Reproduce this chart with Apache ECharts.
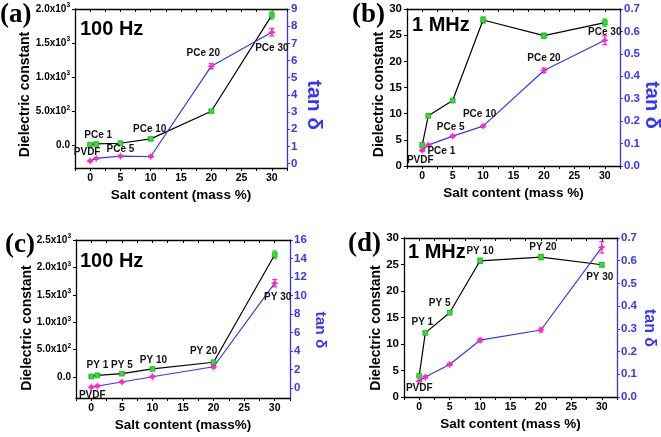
<!DOCTYPE html>
<html><head><meta charset="utf-8">
<script src="https://cdn.jsdelivr.net/npm/echarts@6/dist/echarts.min.js"></script>
<style>html,body{margin:0;padding:0;background:#fff}#c{width:661px;height:437px}</style>
</head><body><div id="c"></div>
<script>
// ---- data ----
const saltContent = [0, 1, 5, 10, 20, 30];

// (a) PCe, 100 Hz
const aDielectric = [10, 20, 30, 95, 500, 1910];
const aDielectricErr = [10, 10, 10, 15, 15, 60];
const aTan = [0.15, 0.3, 0.43, 0.41, 5.67, 7.65];
const aTanErr = [0.05, 0.05, 0.05, 0.05, 0.15, 0.22];
const aNames = ['PVDF', 'PCe 1', 'PCe 5', 'PCe 10', 'PCe 20', 'PCe 30'];

// (b) PCe, 1 MHz
const bDielectric = [4.0, 9.6, 12.5, 27.9, 24.9, 27.4];
const bDielectricErr = [0.2, 0.3, 0.3, 0.6, 0.5, 0.7];
const bTan = [0.07, 0.093, 0.133, 0.178, 0.426, 0.561];
const bTanErr = [0.005, 0.005, 0.005, 0.005, 0.01, 0.02];
const bNames = ['PVDF', 'PCe 1', 'PCe 5', 'PCe 10', 'PCe 20', 'PCe 30'];

// (c) PY, 100 Hz
const cDielectric = [10, 30, 61, 147, 269, 2231];
const cDielectricErr = [10, 10, 10, 15, 20, 70];
const cTan = [0.1, 0.22, 0.65, 1.22, 2.3, 11.33];
const cTanErr = [0.1, 0.1, 0.1, 0.1, 0.15, 0.4];
const cNames = ['PVDF', 'PY 1', 'PY 5', 'PY 10', 'PY 20', 'PY 30'];

// (d) PY, 1 MHz
const dDielectric = [4.0, 12.1, 15.9, 25.7, 26.4, 24.95];
const dDielectricErr = [0.2, 0.2, 0.3, 0.5, 0.5, 0.4];
const dTan = [0.07, 0.088, 0.143, 0.25, 0.295, 0.659];
const dTanErr = [0.003, 0.005, 0.005, 0.008, 0.008, 0.025];
const dNames = ['PVDF', 'PY 1', 'PY 5', 'PY 10', 'PY 20', 'PY 30'];

// tick labels of the axes
const xTickLabels = [0, 5, 10, 15, 20, 25, 30];
const leftTicksA = [0, 500, 1000, 1500, 2000];
const rightTicksA = [0, 1, 2, 3, 4, 5, 6, 7, 8, 9];
const leftTicksB = [0, 5, 10, 15, 20, 25, 30];
const rightTicksB = [0, 0.1, 0.2, 0.3, 0.4, 0.5, 0.6, 0.7];
const leftTicksC = [0, 500, 1000, 1500, 2000, 2500];
const rightTicksC = [0, 2, 4, 6, 8, 10, 12, 14, 16];
const leftTicksD = [0, 5, 10, 15, 20, 25, 30];
const rightTicksD = [0, 0.1, 0.2, 0.3, 0.4, 0.5, 0.6, 0.7];

// ---- styling ----
const FONT = "'Liberation Sans', Arial, sans-serif";
const BLUE = '#3535ff';
const GREEN = '#33dd33';
const MAGENTA = '#ff2bc0';
const STAR = 'path://M0,-1L0.3,-0.3L1,0L0.3,0.3L0,1L-0.3,0.3L-1,0L-0.3,-0.3Z';
const XMIN = -2.5, XMAX = 32.5;

const panels = [
  { letter: '(a)', freq: '100 Hz', grid: {left: 75, top: 9, width: 212, height: 159},
    xName: 'Salt content (mass %)',
    lmin: -333, lmax: 2000, lTicks: leftTicksA, sci: true,
    rmin: -0.26, rmax: 9, rTicks: rightTicksA, rDec: 0,
    lTitle: [25.5, 94.5], rTitle: [313.5, 105, 21],
    k: aDielectric, kErr: aDielectricErr, t: aTan, tErr: aTanErr, names: aNames,
    labels: [['t',0,-3,-9],['k',1,2,-9],['t',2,0,-7],['k',3,-1,-9.5],['t',4,-8,-13],['k',5,0,33]],
    letterPos: [0, 2], freqPos: [80, 19] },
  { letter: '(b)', freq: '1 MHz', grid: {left: 407, top: 9, width: 213, height: 157},
    xName: 'Salt content (mass %)',
    lmin: 0, lmax: 30, lTicks: leftTicksB, sci: false,
    rmin: 0, rmax: 0.7, rTicks: rightTicksB, rDec: 1,
    lTitle: [379, 94.5], rTitle: [652, 105, 20],
    k: bDielectric, kErr: bDielectricErr, t: bTan, tErr: bTanErr, names: bNames,
    labels: [['t',0,-2,10],['t',1,13,6],['t',2,-2,-8.5],['t',3,-3.5,-12],['t',4,0,-12],['k',5,0,9.5]],
    letterPos: [352, 2], freqPos: [412, 15] },
  { letter: '(c)', freq: '100 Hz', grid: {left: 76, top: 240, width: 214, height: 158},
    xName: 'Salt content (mass%)',
    lmin: -383, lmax: 2500, lTicks: leftTicksC, sci: true,
    rmin: -1.08, rmax: 16, rTicks: rightTicksC, rDec: 0,
    lTitle: [27.5, 328], rTitle: [320, 330, 15.5],
    k: cDielectric, kErr: cDielectricErr, t: cTan, tErr: cTanErr, names: cNames,
    labels: [['t',0,1,8],['k',1,0,-10],['k',2,0,-8.5],['k',3,1,-8.5],['k',4,-10,-11.5],['t',5,3,14]],
    letterPos: [5, 232], freqPos: [80, 251] },
  { letter: '(d)', freq: '1 MHz', grid: {left: 404, top: 238, width: 213, height: 159},
    xName: 'Salt content (mass %)',
    lmin: 0, lmax: 30, lTicks: leftTicksD, sci: false,
    rmin: 0, rmax: 0.7, rTicks: rightTicksD, rDec: 1,
    lTitle: [376, 328], rTitle: [649, 328, 16],
    k: dDielectric, kErr: dDielectricErr, t: dTan, tErr: dTanErr, names: dNames,
    labels: [['t',0,0,7.5],['k',1,-3,-10.5],['k',2,-10,-9.5],['k',3,0,-10],['k',4,2,-9.5],['k',5,-2,12]],
    letterPos: [348, 231], freqPos: [408, 242] }
];

function sciLabel(v) {
  if (Math.abs(v) < 1e-9) return '{m|0.0}';
  const e = Math.floor(Math.log10(Math.abs(v)) + 1e-9);
  const m = v / Math.pow(10, e);
  return '{m|' + m.toFixed(1) + 'x10}{s|' + e + '}';
}

const grids = [], xAxes = [], yAxes = [], series = [], graphics = [];
const bottomAxisIndex = [];

function errSeries(xi, yi, xs, ys, es, color) {
  return {
    type: 'custom', xAxisIndex: xi, yAxisIndex: yi, z: 3, silent: true,
    data: xs.map((x, i) => [x, ys[i], es[i]]),
    renderItem: function (params, api) {
      const x = api.value(0), y = api.value(1), e = api.value(2);
      const lo = api.coord([x, y - e]), hi = api.coord([x, y + e]);
      const w = 2.5;
      const st = {stroke: color, lineWidth: 1.3, fill: null};
      return {type: 'group', children: [
        {type: 'line', shape: {x1: lo[0], y1: lo[1], x2: hi[0], y2: hi[1]}, style: st},
        {type: 'line', shape: {x1: lo[0]-w, y1: lo[1], x2: lo[0]+w, y2: lo[1]}, style: st},
        {type: 'line', shape: {x1: hi[0]-w, y1: hi[1], x2: hi[0]+w, y2: hi[1]}, style: st}
      ]};
    }
  };
}

panels.forEach((p, pi) => {
  grids.push(Object.assign({}, p.grid));
  const xb = xAxes.length;
  bottomAxisIndex.push(xb);
  xAxes.push({
    type: 'value', gridIndex: pi, min: XMIN, max: XMAX, interval: 2.5, position: 'bottom',
    name: p.xName, nameLocation: 'middle', nameGap: 20,
    nameTextStyle: {fontFamily: FONT, fontWeight: 'bold', fontSize: 13.5, color: '#000'},
    axisLine: {onZero: false, lineStyle: {color: '#000', width: 1.3}},
    axisTick: {show: true, inside: false, length: 3, lineStyle: {color: '#000'}},
    axisLabel: {show: false},
    splitLine: {show: false}
  });
  xAxes.push({
    type: 'value', gridIndex: pi, min: XMIN, max: XMAX, interval: 2.5, position: 'top',
    axisLine: {onZero: false, lineStyle: {color: '#000', width: 1.3}},
    axisTick: {show: true, inside: true, length: 3, lineStyle: {color: '#000'}},
    axisLabel: {show: false}, splitLine: {show: false}
  });
  const yl = yAxes.length;
  yAxes.push({
    type: 'value', gridIndex: pi, min: p.lmin, max: p.lmax, position: 'left',
    axisLine: {show: true, onZero: false, lineStyle: {color: '#000', width: 1.3}},
    axisTick: {show: true, length: 3, customValues: p.lTicks, lineStyle: {color: '#000'}},
    axisLabel: {
      customValues: p.lTicks, margin: 5, color: '#000',
      fontFamily: FONT, fontWeight: 'bold', fontSize: p.sci ? 10 : 11.5,
      formatter: p.sci ? sciLabel : (v => String(v)),
      rich: p.sci ? {
        m: {fontFamily: FONT, fontWeight: 'bold', fontSize: 10, color: '#000'},
        s: {fontFamily: FONT, fontWeight: 'bold', fontSize: 6.5, color: '#000', padding: [0, 0, 7, 0]}
      } : undefined
    },
    splitLine: {show: false}
  });
  yAxes.push({
    type: 'value', gridIndex: pi, min: p.rmin, max: p.rmax, position: 'right',
    axisLine: {show: true, onZero: false, lineStyle: {color: BLUE, width: 1.3}},
    axisTick: {show: true, length: 3, customValues: p.rTicks, lineStyle: {color: BLUE}},
    axisLabel: {customValues: p.rTicks, margin: 4, color: BLUE, fontFamily: FONT, fontWeight: 'bold', fontSize: 11.5,
      formatter: v => v.toFixed(p.rDec)},
    splitLine: {show: false}
  });

  const mkData = (ys, key) => saltContent.map((x, i) => {
    const item = {value: [x, ys[i]]};
    p.labels.forEach(l => {
      if (l[0] === key && l[1] === i) {
        item.label = {show: true, formatter: p.names[i], position: 'inside', offset: [l[2], l[3]],
          fontFamily: FONT, fontWeight: 'bold', fontSize: 10, color: '#111'};
      }
    });
    return item;
  });

  series.push({
    type: 'line', xAxisIndex: xb, yAxisIndex: yl, data: mkData(p.k, 'k'), z: 4,
    lineStyle: {color: '#000', width: 1.2}, symbol: 'rect', symbolSize: 5,
    itemStyle: {color: GREEN, borderColor: '#118811', borderWidth: 0.5}, label: {show: false}
  });
  series.push({
    type: 'line', xAxisIndex: xb, yAxisIndex: yl + 1, data: mkData(p.t, 't'), z: 4,
    lineStyle: {color: BLUE, width: 1.2}, symbol: STAR, symbolSize: 8,
    itemStyle: {color: MAGENTA}, label: {show: false}
  });
  series.push(errSeries(xb, yl, saltContent, p.k, p.kErr, GREEN));
  series.push(errSeries(xb, yl + 1, saltContent, p.t, p.tErr, MAGENTA));

  graphics.push({type: 'text', left: p.letterPos[0], top: p.letterPos[1], z: 100,
    style: {text: p.letter, font: "bold 27px 'Liberation Serif', 'Times New Roman', serif", fill: '#000'}});
  graphics.push({type: 'text', left: p.freqPos[0], top: p.freqPos[1], z: 100,
    style: {text: p.freq, font: "bold 20px " + FONT, fill: '#000'}});
  graphics.push({type: 'text', x: p.lTitle[0], y: p.lTitle[1], rotation: Math.PI / 2, z: 100,
    style: {text: 'Dielectric constant', align: 'center', verticalAlign: 'middle', font: "bold 14px " + FONT, fill: '#000'}});
  graphics.push({type: 'text', x: p.rTitle[0], y: p.rTitle[1], rotation: -Math.PI / 2, z: 100,
    style: {text: 'tan δ', align: 'center', verticalAlign: 'middle', font: "bold " + p.rTitle[2] + "px " + FONT, fill: BLUE}});
});

const chart = echarts.init(document.getElementById('c'), null, {renderer: 'canvas'});
chart.setOption({
  animation: false, backgroundColor: '#fff',
  grid: grids, xAxis: xAxes, yAxis: yAxes, series: series, graphic: graphics
});

// x tick labels, placed through each bottom axis' own scale
const tickTexts = [];
panels.forEach((p, pi) => {
  const yPix = p.grid.top + p.grid.height + 5;
  xTickLabels.forEach(v => {
    const xPix = chart.convertToPixel({xAxisIndex: bottomAxisIndex[pi]}, v);
    tickTexts.push({type: 'text', x: xPix, y: yPix, z: 100, zlevel: 0,
      style: {text: String(v), align: 'center', verticalAlign: 'top', font: "bold 10.5px " + FONT, fill: '#000'}});
  });
});
chart.setOption({graphic: graphics.concat(tickTexts)});
</script>
</body></html>
